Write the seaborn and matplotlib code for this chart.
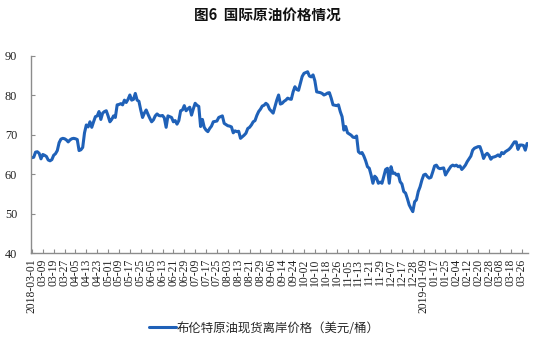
import matplotlib
matplotlib.use("Agg")
import matplotlib.pyplot as plt
import pandas as pd
import seaborn as sns

# Brent dated spot (FOB), USD per barrel, one value per trading day from 2018-03-01
brent = [
    64.2, 64.3, 65.6, 65.7, 65.3, 63.9, 65.0, 64.8, 64.5, 63.6,
    63.4, 63.7, 64.8, 65.2, 66.0, 68.0, 68.9, 69.1, 69.0, 68.7,
    68.2, 68.7, 69.0, 69.1, 69.0, 68.8, 66.0, 66.2, 66.8, 70.5,
    72.5, 72.0, 73.3, 71.9, 73.3, 74.6, 74.8, 75.9, 73.9, 75.5,
    75.9, 76.1, 74.8, 73.3, 73.9, 74.8, 74.4, 77.6, 77.7, 77.9,
    77.6, 78.8, 78.2, 79.0, 80.1, 78.8, 79.0, 80.5, 78.8, 78.5,
    76.3, 74.4, 75.5, 76.3, 75.2, 74.2, 73.3, 73.8, 74.8, 75.3,
    74.9, 74.8, 74.9, 74.3, 71.9, 74.8, 74.6, 74.4, 73.3, 73.6,
    72.7, 73.6, 76.1, 76.3, 77.4, 76.1, 76.6, 77.0, 75.0, 76.6,
    78.0, 77.5, 77.2, 72.1, 73.9, 71.9, 71.2, 70.8, 71.6, 72.2,
    73.3, 73.4, 73.5, 74.4, 74.6, 74.8, 72.9, 72.6, 72.3, 72.2,
    72.0, 70.5, 71.0, 70.8, 70.9, 69.1, 69.5, 69.9, 70.4, 71.6,
    71.9, 72.5, 73.3, 73.6, 74.9, 75.9, 76.5, 77.3, 77.5, 78.0,
    77.6, 76.5, 76.0, 75.5, 77.1, 78.8, 80.1, 77.8, 78.0, 78.5,
    78.8, 79.3, 79.1, 79.0, 80.9, 82.2, 81.5, 81.3, 83.1, 84.8,
    85.6, 85.8, 86.0, 84.9, 84.7, 85.2, 83.7, 80.9, 80.8, 80.7,
    80.5, 80.1, 80.3, 80.6, 80.7, 79.3, 77.6, 77.5, 77.4, 77.6,
    75.9, 74.6, 71.2, 72.1, 70.5, 70.2, 69.9, 69.4, 69.3, 69.7,
    65.7, 65.3, 65.5, 64.6, 63.4, 61.9, 61.5, 59.8, 57.7, 59.5,
    59.0, 57.7, 58.0, 57.7, 59.4, 61.2, 61.5, 57.7, 61.9, 60.2,
    60.3, 59.8, 60.0, 58.1, 57.5, 55.6, 55.2, 53.8, 52.2, 51.3,
    50.5, 53.0, 53.5, 55.6, 56.8, 58.5, 59.8, 60.0, 59.4, 59.0,
    59.2, 60.6, 62.1, 62.3, 61.6, 61.4, 61.5, 61.6, 59.8, 60.6,
    61.3, 62.0, 62.3, 62.1, 62.3, 61.9, 62.1, 61.2, 61.7, 62.3,
    63.2, 63.9, 64.6, 66.1, 66.6, 66.8, 67.0, 67.0, 65.7, 64.0,
    64.9, 65.3, 64.8, 63.8, 64.3, 64.4, 64.6, 64.9, 64.5, 65.5,
    65.2, 65.7, 66.0, 66.3, 66.8, 67.5, 68.2, 68.2, 66.3, 67.4,
    67.4, 67.3, 66.1, 67.8,
]

# date labels shown on the x axis, one every six trading days
tick_labels = [
    "2018-03-01", "03-09", "03-19", "03-27", "04-05", "04-13", "04-23",
    "05-01", "05-09", "05-17", "05-25", "06-05", "06-13", "06-21", "06-29",
    "07-09", "07-17", "07-25", "08-03", "08-13", "08-21", "08-29", "09-06",
    "09-14", "09-24", "10-02", "10-10", "10-18", "10-26", "11-05", "11-13",
    "11-21", "11-29", "12-07", "12-17", "12-28", "2019-01-09", "01-17",
    "01-25", "02-04", "02-12", "02-20", "02-28", "03-08", "03-18", "03-26",
]
tick_step = 6

y_ticks = [40, 50, 60, 70, 80, 90]
series_name = "布伦特原油现货离岸价格（美元/桶）"
title = "图6  国际原油价格情况"
line_color = "#1f61b8"
axis_color = "#8c8c8c"

sns.set_theme(style="white")
plt.rcParams["font.family"] = ["Noto Sans CJK SC", "DejaVu Sans"]

W, H = 537, 343
fig = plt.figure(figsize=(W / 100, H / 100), dpi=100)
ax = fig.add_axes([31 / W, 1 - 253 / H, (528 - 31) / W, (253 - 56) / H])

df = pd.DataFrame({"day": range(len(brent)), "price": brent, "series": series_name})
sns.lineplot(data=df, x="day", y="price", hue="series", palette=[line_color],
             linewidth=2.2, ax=ax)

ax.set_xlim(-0.5, len(brent) - 0.5)
ax.set_ylim(y_ticks[0], y_ticks[-1])
ax.set_yticks(y_ticks)
ax.set_xticks(range(0, tick_step * len(tick_labels), tick_step))
ax.set_xticklabels(tick_labels, rotation=90, fontfamily="Liberation Serif",
                   fontsize=8.4, color="#222222")
for lab in ax.get_yticklabels():
    lab.set_fontfamily("Liberation Serif")
    lab.set_fontsize(8.8)
    lab.set_color("#222222")
ax.set_xlabel("")
ax.set_ylabel("")

for side in ("top", "right"):
    ax.spines[side].set_visible(False)
for side in ("left", "bottom"):
    ax.spines[side].set_color(axis_color)
    ax.spines[side].set_linewidth(1.0)

ax.tick_params(axis="both", direction="in", length=3, width=0.8, color=axis_color)
ax.tick_params(axis="y", pad=10, left=True)
ax.tick_params(axis="x", pad=4, bottom=True)

handles, labels = ax.get_legend_handles_labels()
ax.get_legend().remove()
fig.legend(handles, labels, loc="center", bbox_to_anchor=(0.492, 1 - 328 / H),
           frameon=False, fontsize=8.9, handlelength=2.2, handletextpad=0.1)

fig.text(0.497, 1 - 15 / H, title, ha="center", va="center",
         fontsize=10.5, fontweight="bold", color="#111111")

fig.savefig("out.png", dpi=100)
